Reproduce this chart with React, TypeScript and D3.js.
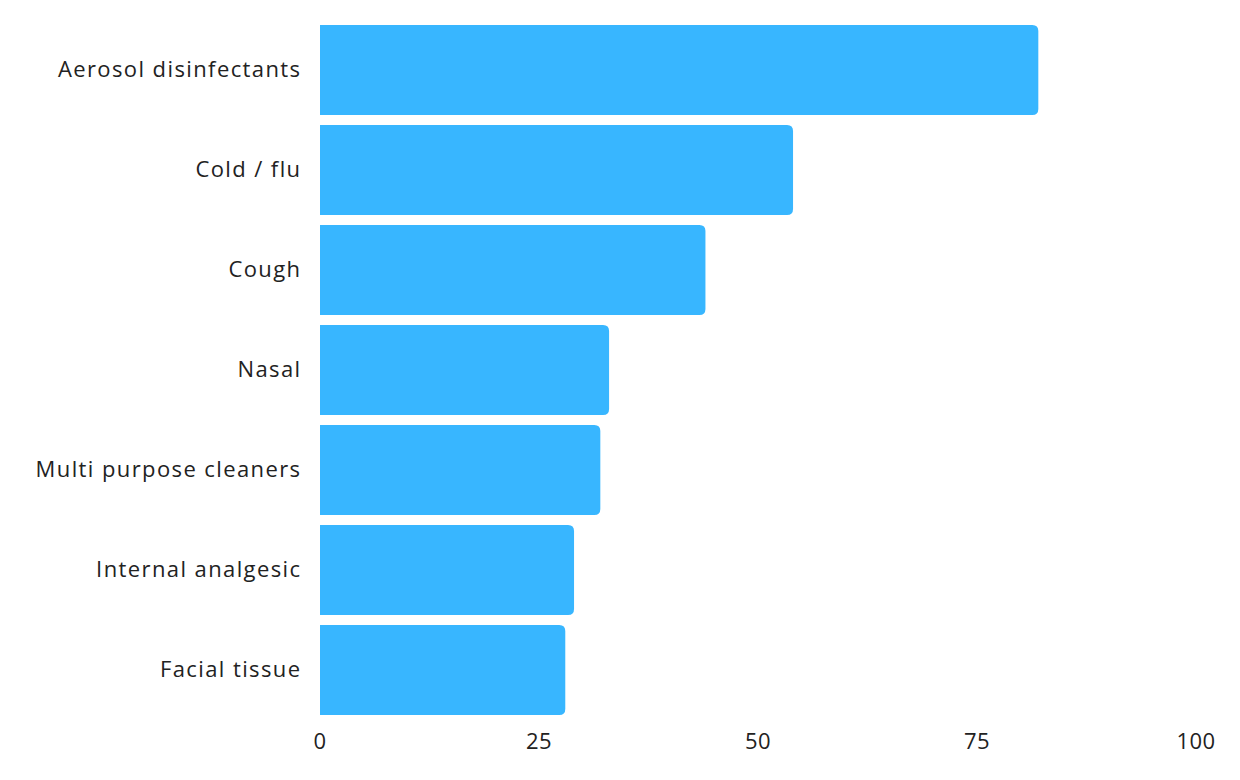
import React from "react";
import * as d3 from "d3";

const categories = [
  "Aerosol disinfectants",
  "Cold / flu",
  "Cough",
  "Nasal",
  "Multi purpose cleaners",
  "Internal analgesic",
  "Facial tissue",
];
const values = [82, 54, 44, 33, 32, 29, 28];
const xTicks = [0, 25, 50, 75, 100];

const W = 1240;
const H = 780;
const FONT = "'Open Sans', 'Noto Sans', sans-serif";

function barPath(x0: number, x1: number, y0: number, h: number, r: number) {
  const rr = Math.min(r, (x1 - x0) / 2, h / 2);
  return `M${x0},${y0}H${x1 - rr}Q${x1},${y0} ${x1},${y0 + rr}V${y0 + h - rr}Q${x1},${y0 + h} ${x1 - rr},${y0 + h}H${x0}Z`;
}

export default function App() {
  const x = d3.scaleLinear().domain([0, 100]).range([320, 1196]);
  const y = d3
    .scaleBand<string>()
    .domain(categories)
    .range([20, 720])
    .paddingInner(0.1)
    .paddingOuter(0.05);

  return (
    <svg
      width={W}
      height={H}
      style={{ position: "absolute", left: 0, top: 0, background: "#fff" }}
    >
      {categories.map((c, i) => {
        const y0 = y(c)!;
        const h = y.bandwidth();
        return (
          <g key={c}>
            <path d={barPath(x(0), x(values[i]), y0, h, 6)} fill="#38B6FF" />
            <text
              x={301.5}
              y={y0 + h / 2 - 2}
              textAnchor="end"
              dominantBaseline="central"
              fontFamily={FONT}
              fontSize={22}
              letterSpacing={1.4}
              fill="#222"
            >
              {c}
            </text>
          </g>
        );
      })}
      {xTicks.map((t) => (
        <text
          key={t}
          x={x(t)}
          y={740}
          textAnchor="middle"
          dominantBaseline="central"
          fontFamily={FONT}
          fontSize={22}
          letterSpacing={0.5}
          fill="#222"
        >
          {t}
        </text>
      ))}
    </svg>
  );
}
